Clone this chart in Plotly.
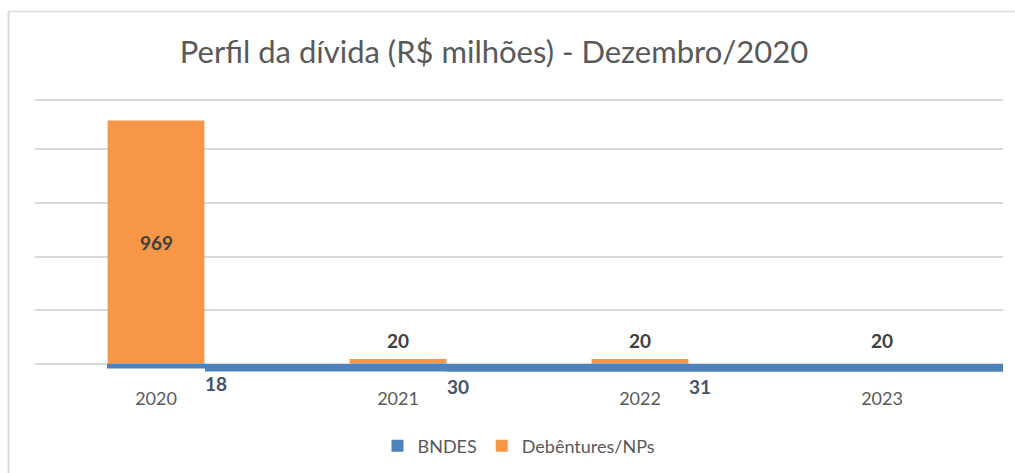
import plotly.graph_objects as go

# ---- data ----
categories = ["2020", "2021", "2022", "2023"]
bndes_categories = ["2020", "2021", "2022"]
bndes_values = [18, 30, 31]
deb_values = [969, 20, 20, 20]
series_names = ["BNDES", "Debêntures/NPs"]
title_text = "Perfil da dívida (R$ milhões) - Dezembro/2020"

# ---- style ----
W, H = 1015, 473
ML, MR, MT, MB = 35, 12, 97, 99
BLUE = "#4F81BD"
ORANGE = "#F79646"
GRID = "#D9D9D9"
FONT = "Lato"
Y_RANGE = [-40, 1063]
grid_vals = [0, 213, 427, 641, 855, 1050]
bndes_offsets = [-0.2025, -0.7975, -0.7975]
bndes_widths = [0.405, 1.0, 2.4]
deb_colors = [ORANGE, ORANGE, ORANGE, "rgba(0,0,0,0)"]

plot_w = W - ML - MR
plot_h = H - MT - MB

def px_x(px):
    return (px - ML) / plot_w

def px_y(py):
    return (H - MB - py) / plot_h

fig = go.Figure()
fig.add_trace(go.Bar(
    name=series_names[0], x=bndes_categories, y=[-v for v in bndes_values],
    offset=bndes_offsets, width=bndes_widths, marker=dict(color=BLUE, line=dict(width=0)),
    hoverinfo="skip",
))
fig.add_trace(go.Bar(
    name=series_names[1], x=categories, y=deb_values,
    offset=-0.2, width=0.4, marker=dict(color=deb_colors, line=dict(width=0)),
    hoverinfo="skip",
))

annotations = []
for c, v in zip(bndes_categories, bndes_values):
    annotations.append(dict(x=categories.index(c), y=-v, xref="x", yref="y", text=f"<b>{v}</b>",
                            showarrow=False, xshift=60, yshift=-15,
                            font=dict(family=FONT, size=19, color="#44546A")))
for c, v in zip(categories, deb_values):
    if v > 100:
        annotations.append(dict(x=categories.index(c), y=v / 2, xref="x", yref="y",
                                text=f"<b>{v}</b>", showarrow=False,
                                font=dict(family=FONT, size=19, color="#404040")))
    else:
        annotations.append(dict(x=categories.index(c), y=v, xref="x", yref="y",
                                text=f"<b>{v}</b>", showarrow=False, yshift=18,
                                font=dict(family=FONT, size=19, color="#404040")))

shapes = [
    dict(type="line", xref="paper", yref="paper", x0=px_x(8.5), x1=px_x(8.5),
         y0=px_y(11), y1=px_y(H + 2), line=dict(color=GRID, width=2)),
    dict(type="line", xref="paper", yref="paper", x0=px_x(8), x1=px_x(W + 2),
         y0=px_y(11.5), y1=px_y(11.5), line=dict(color=GRID, width=1.5)),
]

fig.update_layout(
    width=W, height=H,
    margin=dict(l=ML, r=MR, t=MT, b=MB, pad=0, autoexpand=False),
    paper_bgcolor="white", plot_bgcolor="white",
    barmode="overlay",
    title=dict(text=title_text, x=494 / W, xanchor="center", y=1 - 52 / H, yanchor="middle",
               yref="container", font=dict(family=FONT, size=31, color="#595959")),
    xaxis=dict(type="category", categoryorder="array", categoryarray=categories,
               range=[-0.5, 3.5], showgrid=False, zeroline=False, showline=False,
               ticks="", ticklabelstandoff=12,
               tickfont=dict(family=FONT, size=18, color="#595959")),
    yaxis=dict(range=Y_RANGE, tickmode="array", tickvals=grid_vals, showticklabels=False,
               showgrid=True, gridcolor=GRID, gridwidth=2, zeroline=False, showline=False),
    legend=dict(orientation="h", x=px_x(519), xanchor="center", y=px_y(446), yanchor="middle",
                font=dict(family=FONT, size=18, color="#595959"), itemwidth=30,
                traceorder="normal"),
    showlegend=True,
    annotations=annotations,
    shapes=shapes,
)

fig.write_html("out.html", config={"displayModeBar": False},
               post_script="document.body.style.margin='0';")
